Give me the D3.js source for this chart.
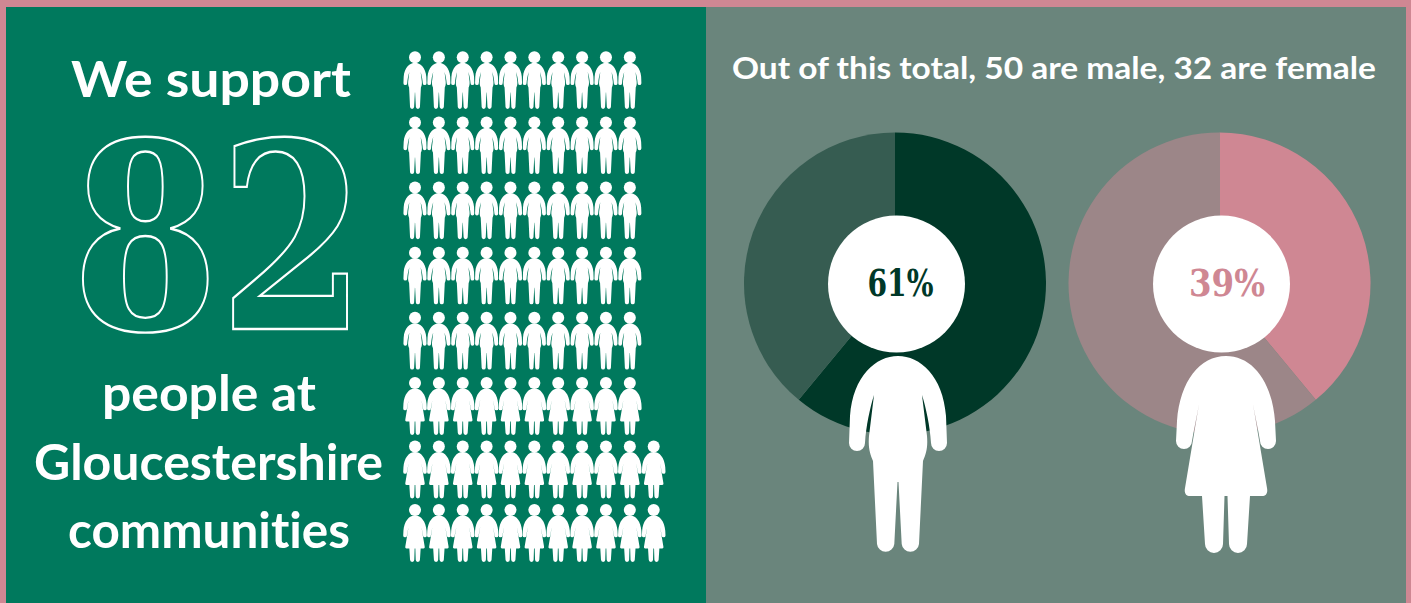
<!DOCTYPE html>
<html>
<head>
<meta charset="utf-8">
<script src="https://cdn.jsdelivr.net/npm/d3@7.9.0/dist/d3.min.js"></script>
<style>
  html, body { margin: 0; padding: 0; background: #cf8793; }
  svg { display: block; }
  text { fill: #fff; font-family: Lato, sans-serif; font-weight: 700; text-anchor: middle; font-variant-ligatures: none; }
</style>
</head>
<body>
<div id="chart"></div>
<script>
const genders = ['male', 'female'];
const genderCounts = [50, 32];
const rowCounts = [10, 10, 10, 10, 10, 10, 11, 11];
const malePie = [61, 39];
const femalePie = [39, 61];
const pieLabels = ['61%', '39%'];
const headingLines = ['We support', 'people at', 'Gloucestershire', 'communities'];
const totalLabel = '82';
const subTitle = 'Out of this total, 50 are male, 32 are female';

const W = 1411, H = 603;
const green = '#00795d', grey = '#6a857c', pink = '#cf8793', dark = '#003828', darkSoft = '#365c51', pinkSoft = '#9c8688';

// body outlines, origin = centre top of the torso, head drawn separately
const manPath = 'M0,0C22,0 45,20 48,60L49,87A8,8 0 0 1 33,87C32,70 28,52 24,39L29,80C30,92 28,98 25,105L21,188A8.7,8.7 0 0 1 3.7,188L0.5,126'
  + 'L-0.5,126L-3.7,188A8.7,8.7 0 0 1 -21,188L-25,105C-28,98 -30,92 -29,80L-24,39C-28,52 -32,70 -33,87A8,8 0 0 1 -49,87L-48,60C-45,20 -22,0 0,0Z';
const womanPath = 'M0,0C26,0 46,25 49,65L50,85A8,8 0 0 1 34,85C32,72 29,60 27,48L41,132C42,137 40,140 36,140L24,140L21,188A9,9 0 0 1 3,188L1.5,140'
  + 'L-1.5,140L-3,188A9,9 0 0 1 -21,188L-24,140L-36,140C-40,140 -42,137 -41,132L-27,48C-29,60 -32,72 -34,85A8,8 0 0 1 -50,85L-49,65C-46,25 -26,0 0,0Z';

const svg = d3.select('#chart').append('svg').attr('width', W).attr('height', H);

svg.append('rect').attr('x', 6).attr('y', 7).attr('width', 700).attr('height', H - 7).attr('fill', green);
svg.append('rect').attr('x', 706).attr('y', 7).attr('width', 700).attr('height', H - 7).attr('fill', grey);

// left column text
const leftText = [
  { t: headingLines[0], x: 211, y: 97, w: 280 },
  { t: headingLines[1], x: 209, y: 411, w: 214 },
  { t: headingLines[2], x: 208.5, y: 479.5, w: 349 },
  { t: headingLines[3], x: 209, y: 548, w: 282 }
];
svg.selectAll('.head').data(leftText).join('text')
  .attr('class', 'head')
  .attr('x', d => d.x).attr('y', d => d.y)
  .attr('font-size', 49)
  .attr('textLength', d => d.w).attr('lengthAdjust', 'spacingAndGlyphs')
  .text(d => d.t);

// big outlined number
svg.append('text')
  .attr('x', 219).attr('y', 329)
  .attr('font-size', 259)
  .attr('textLength', 294).attr('lengthAdjust', 'spacingAndGlyphs')
  .style('font-family', '"DejaVu Serif", serif')
  .style('fill', 'none')
  .attr('stroke', '#fff').attr('stroke-width', 2.4)
  .text(totalLabel);

// pictogram: one icon per person
const col = d3.scaleLinear().domain([0, 10]).range([415, 653.7]);
const row = d3.scaleLinear().domain([0, 5, 7]).range([57.3, 383, 510]);
const iconScale = 0.236;
let counted = 0;
const people = [];
rowCounts.forEach((n, r) => {
  d3.range(n).forEach(c => {
    people.push({ r, c, gender: counted < genderCounts[0] ? genders[0] : genders[1] });
    counted++;
  });
});
const icons = svg.append('g').selectAll('g').data(people).join('g')
  .attr('transform', d => `translate(${col(d.c)},${row(d.r)})`)
  .attr('fill', '#fff');
icons.append('circle').attr('r', 6);
icons.append('path')
  .attr('transform', `translate(0,5.4) scale(${iconScale})`)
  .attr('d', d => d.gender === 'male' ? manPath : womanPath);

// right panel
svg.append('text')
  .attr('x', 1054).attr('y', 78.5)
  .attr('font-size', 31)
  .attr('textLength', 644).attr('lengthAdjust', 'spacingAndGlyphs')
  .text(subTitle);

const pie = d3.pie().sort(null);
const arc = d3.arc().innerRadius(0).outerRadius(151);

function drawDonut(cx, values, colors, label, labelColor, holeX, labelX, labelW, bodyX, body) {
  const g = svg.append('g').attr('transform', `translate(${cx},283.5)`);
  g.selectAll('path').data(pie(values)).join('path')
    .attr('d', arc)
    .attr('fill', (d, i) => colors[i]);
  svg.append('circle').attr('cx', holeX).attr('cy', 284).attr('r', 68.5).attr('fill', '#fff');
  svg.append('text')
    .attr('x', labelX).attr('y', 296)
    .attr('font-size', 37)
    .attr('textLength', labelW).attr('lengthAdjust', 'spacingAndGlyphs')
    .style('font-family', '"DejaVu Serif", serif')
    .style('fill', labelColor)
    .text(label);
  svg.append('path')
    .attr('transform', `translate(${bodyX},356)`)
    .attr('d', body)
    .attr('fill', '#fff');
}

drawDonut(895, malePie, [dark, darkSoft], pieLabels[0], dark, 896.5, 900.5, 66, 898, manPath);
drawDonut(1219.5, femalePie, [pink, pinkSoft], pieLabels[1], pink, 1221.5, 1227, 76, 1226, womanPath);
</script>
</body>
</html>
